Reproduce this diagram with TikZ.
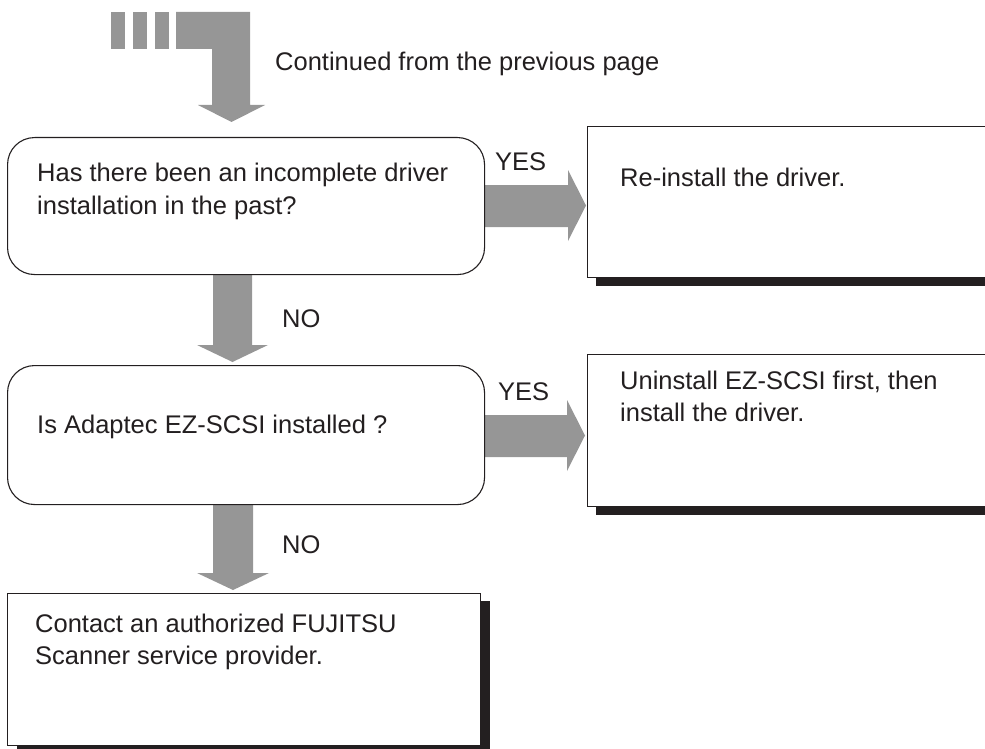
\documentclass[tikz,border=0pt]{standalone}
\usepackage{fontspec}
\setmainfont{Liberation Sans}
\definecolor{arrgray}{RGB}{150,150,150}
\definecolor{ink}{RGB}{35,31,32}
\begin{document}
\begin{tikzpicture}[x=1pt,y=-1pt,
  txt/.style={anchor=base west,inner sep=0pt,text=ink,font=\fontsize{25.5pt}{29pt}\selectfont},
  fat/.style={fill=arrgray,draw=none},
  decision/.style={draw=ink,line width=1.1pt,fill=white,rounded corners=27pt,anchor=north west,inner sep=0pt},
  result/.style={draw=ink,line width=1.1pt,fill=white,anchor=north west,inner sep=0pt},
  shadowbox/.style={fill=ink,draw=none}]
\useasboundingbox (0,0) rectangle (985,749);
\clip (0,0) rectangle (985,749);

% continuation arrow
\fill[arrgray] (111,12) rectangle (125,49);
\fill[arrgray] (133,12) rectangle (147,49);
\fill[arrgray] (155,12) rectangle (169,49);
\fill[arrgray] (176,12) -- (250,12) -- (250,105) -- (265,105) -- (231.5,122)
  -- (198,105) -- (212,105) -- (212,49) -- (176,49) -- cycle;
\node[txt] (cont) at (275,71) {Continued from the previous page};

% fat connectors
\fill[arrgray] (484,185) -- (568,185) -- (568,170) -- (586,205.5) -- (568,241) -- (568,227) -- (484,227) -- cycle;
\fill[arrgray] (213,274) -- (252,274) -- (252,345) -- (268,345) -- (232.5,362) -- (197,345) -- (213,345) -- cycle;
\fill[arrgray] (484,415) -- (567,415) -- (567,400) -- (585,435.5) -- (567,471) -- (567,457) -- (484,457) -- cycle;
\fill[arrgray] (213,504) -- (253,504) -- (253,573) -- (269,573) -- (233,590) -- (197,573) -- (213,573) -- cycle;

% decision 1
\node[decision,minimum width=477pt,minimum height=137pt] (d1) at (7,137) {};
\node[txt] (d1a) at (37,182) {Has there been an incomplete driver};
\node[txt] (d1b) at (37,214) {installation in the past?};
\node[txt] (yes1) at (495,171) {YES};
\node[txt] (no1) at (282,327) {NO};

% result 1
\fill[shadowbox] (596,277) rectangle (990,286);
\node[result,minimum width=420pt,minimum height=151pt] (r1) at (587,126) {};
\node[txt] (r1a) at (620,186) {Re-install the driver.};

% decision 2
\node[decision,minimum width=477pt,minimum height=139pt] (d2) at (7,365) {};
\node[txt] (d2a) at (37,433) {Is Adaptec EZ-SCSI installed ?};
\node[txt] (yes2) at (498,400) {YES};
\node[txt] (no2) at (282,553) {NO};

% result 2
\fill[shadowbox] (596,506) rectangle (990,515);
\node[result,minimum width=420pt,minimum height=152pt] (r2) at (587,354) {};
\node[txt] (r2a) at (620,389) {Uninstall EZ-SCSI first, then};
\node[txt] (r2b) at (620,421) {install the driver.};

% final box
\fill[shadowbox] (17,601) rectangle (490,760);
\node[result,minimum width=473pt,minimum height=152pt] (f) at (7,593) {};
\node[txt] (fa) at (35,632) {Contact an authorized FUJITSU};
\node[txt] (fb) at (35,664) {Scanner service provider.};
\end{tikzpicture}
\end{document}
